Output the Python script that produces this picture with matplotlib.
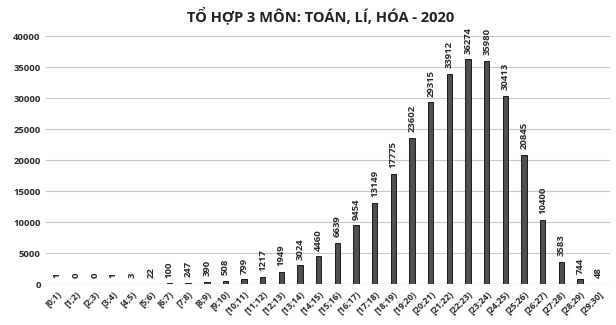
import numpy as np
import matplotlib.pyplot as plt

plt.rcParams['font.family'] = ['Open Sans', 'DejaVu Sans']

khoang = ['[%d;%d)' % (k, k + 1) for k in range(29)] + ['[29;30]']
so_luong = [1, 0, 0, 1, 3, 22, 100, 247, 390, 508, 799, 1217, 1949, 3024, 4460,
            6639, 9454, 13149, 17775, 23602, 29315, 33912, 36274, 35980, 30413,
            20845, 10400, 3583, 744, 48]

fig = plt.figure(figsize=(6.16, 3.25), dpi=100)
ax = fig.add_axes([0.075, 0.126, 0.915, 0.763])

x = np.arange(len(khoang))
ax.bar(x, so_luong, width=0.3, color='#4f4f4f', edgecolor='#1a1a1a', linewidth=0.7, zorder=3)

for xi, v in zip(x, so_luong):
    ax.text(xi, v + 900, str(v), rotation=90, ha='center', va='bottom',
            fontsize=6.8, fontweight='bold', color='#2a2a2a')

ax.set_ylim(0, 40000)
ax.set_xlim(-0.6, len(khoang) - 0.4)
ax.set_yticks(range(0, 40001, 5000))
ax.set_yticklabels([str(t) for t in range(0, 40001, 5000)], fontsize=6.8, fontweight='bold', color='#2a2a2a')
ax.set_xticks(x)
ax.set_xticklabels(khoang, rotation=45, ha='right', rotation_mode='anchor',
                   fontsize=6.3, fontweight='bold', color='#2a2a2a')
ax.grid(axis='y', color='#c8c8c8', linewidth=0.8, zorder=0)
for s in ax.spines.values():
    s.set_visible(False)
ax.axhline(0, color='#bbbbbb', linewidth=0.8, zorder=2)
ax.tick_params(length=0, pad=4)

fig.text(0.52, 0.953, 'TỔ HỢP 3 MÔN: TOÁN, LÍ, HÓA - 2020', ha='center', va='center',
         fontsize=10.5, fontweight='bold', color='#222222')

fig.savefig('out.png', dpi=100)
